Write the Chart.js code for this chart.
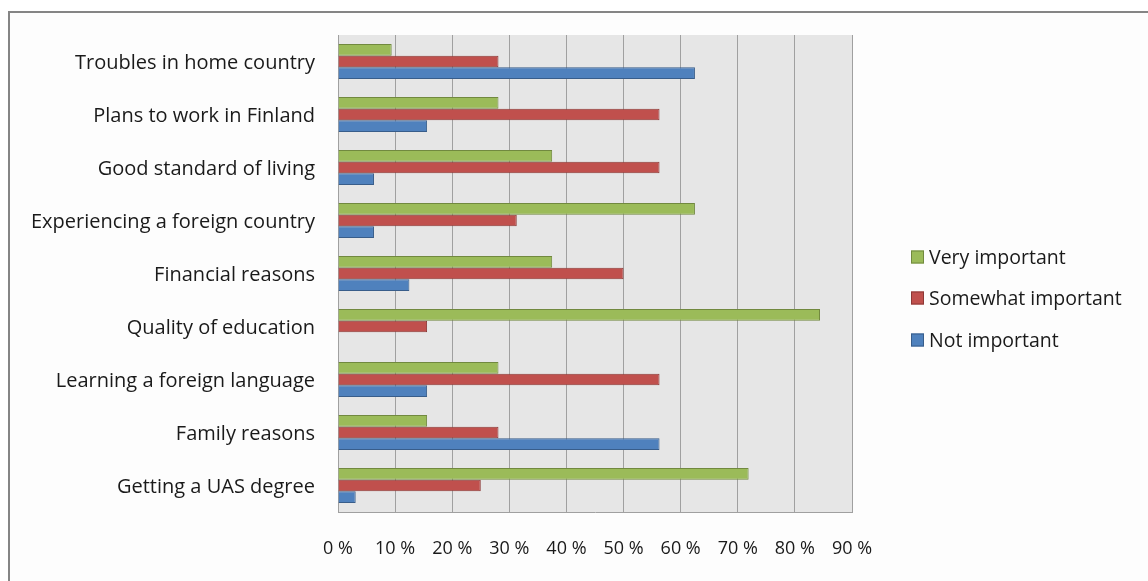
<!DOCTYPE html>
<html>
<head>
<meta charset="utf-8">
<script src="https://cdn.jsdelivr.net/npm/chart.js@4"></script>
<style>
  html, body { margin: 0; padding: 0; background: #ffffff; }
  #wrap { position: relative; width: 1148px; height: 581px; }
  canvas { display: block; }
</style>
</head>
<body>
<div id="wrap"><canvas id="c" width="1148" height="581"></canvas></div>
<script>
const categories = [
  "Troubles in home country",
  "Plans to work in Finland",
  "Good standard of living",
  "Experiencing a foreign country",
  "Financial reasons",
  "Quality of education",
  "Learning a foreign language",
  "Family reasons",
  "Getting a UAS degree"
];
const seriesNames = ["Very important", "Somewhat important", "Not important"];
const veryImportant     = [9.4, 28.1, 37.5, 62.5, 37.5, 84.4, 28.1, 15.6, 71.9];
const somewhatImportant = [28.1, 56.3, 56.3, 31.3, 50.0, 15.6, 56.3, 28.1, 25.0];
const notImportant      = [62.5, 15.6, 6.3, 6.3, 12.5, 0, 15.6, 56.3, 3.1];
const tickValues = [0, 10, 20, 30, 40, 50, 60, 70, 80, 90];

const FONT = "'Open Sans', Lato, sans-serif";
const fills   = ["#9bbb59", "#c0504d", "#4f81bd"];
const borders = ["#71893f", "#8c3836", "#385d8a"];

const PLOT_LEFT = 338, PLOT_TOP = 34, PLOT_RIGHT = 852, PLOT_BOTTOM = 512;
const W = 1148, H = 581;

const framePlugin = {
  id: 'frame',
  beforeDraw(chart) {
    const ctx = chart.ctx;
    ctx.save();
    ctx.fillStyle = '#ffffff';
    ctx.fillRect(0, 0, W, H);
    ctx.fillStyle = '#fdfdfd';
    ctx.fillRect(9, 12, W - 9, H - 12);
    ctx.strokeStyle = '#858585';
    ctx.lineWidth = 2;
    ctx.beginPath();
    ctx.moveTo(9, H + 2);
    ctx.lineTo(9, 12);
    ctx.lineTo(W + 2, 12);
    ctx.stroke();
    const a = chart.chartArea;
    ctx.fillStyle = '#e6e6e6';
    ctx.fillRect(a.left, a.top, a.right - a.left, a.bottom - a.top);
    ctx.restore();
  },
  afterDraw(chart) {
    const ctx = chart.ctx;
    ctx.save();
    const x0 = 911, ys = [257, 298, 340];
    ctx.font = "19.5px " + FONT;
    ctx.textBaseline = 'middle';
    ctx.textAlign = 'left';
    chart.data.datasets.forEach((ds, i) => {
      const y = ys[i];
      ctx.fillStyle = ds.backgroundColor;
      ctx.fillRect(x0, y - 6.5, 13, 13);
      ctx.strokeStyle = ds.borderColor;
      ctx.lineWidth = 1;
      ctx.strokeRect(x0 + 0.5, y - 6, 12, 12);
      ctx.fillStyle = '#1a1a1a';
      ctx.fillText(ds.label, 929, y + 1);
    });
    ctx.restore();
  }
};

const seriesData = [veryImportant, somewhatImportant, notImportant];

new Chart(document.getElementById('c'), {
  type: 'bar',
  data: {
    labels: categories,
    datasets: seriesNames.map((n, i) => ({
      label: n,
      data: seriesData[i],
      backgroundColor: fills[i],
      borderColor: borders[i],
      borderWidth: 1,
      categoryPercentage: 0.66,
      barPercentage: 1.0
    }))
  },
  options: {
    indexAxis: 'y',
    responsive: false,
    animation: false,
    devicePixelRatio: 1,
    layout: { padding: { top: PLOT_TOP, right: W - PLOT_RIGHT, left: 0, bottom: 0 } },
    plugins: { legend: { display: false }, tooltip: { enabled: false } },
    scales: {
      x: {
        min: 0, max: 90,
        afterBuildTicks(scale) { scale.ticks = tickValues.map(v => ({ value: v })); },
        ticks: {
          callback: v => v + ' %',
          color: '#1a1a1a',
          font: { family: FONT, size: 18 },
          padding: 26,
          maxRotation: 0
        },
        grid: { color: '#a0a0a0', lineWidth: 1, drawTicks: false },
        border: { display: true, color: '#a0a0a0', width: 1 },
        afterFit(scale) { scale.height = H - PLOT_BOTTOM; }
      },
      y: {
        ticks: {
          color: '#1a1a1a',
          font: { family: FONT, size: 20 },
          padding: 23,
          labelOffset: 2
        },
        grid: { display: false, drawTicks: false },
        border: { display: true, color: '#a0a0a0', width: 1 },
        afterFit(scale) { scale.width = PLOT_LEFT; }
      }
    }
  },
  plugins: [framePlugin]
});
</script>
</body>
</html>
